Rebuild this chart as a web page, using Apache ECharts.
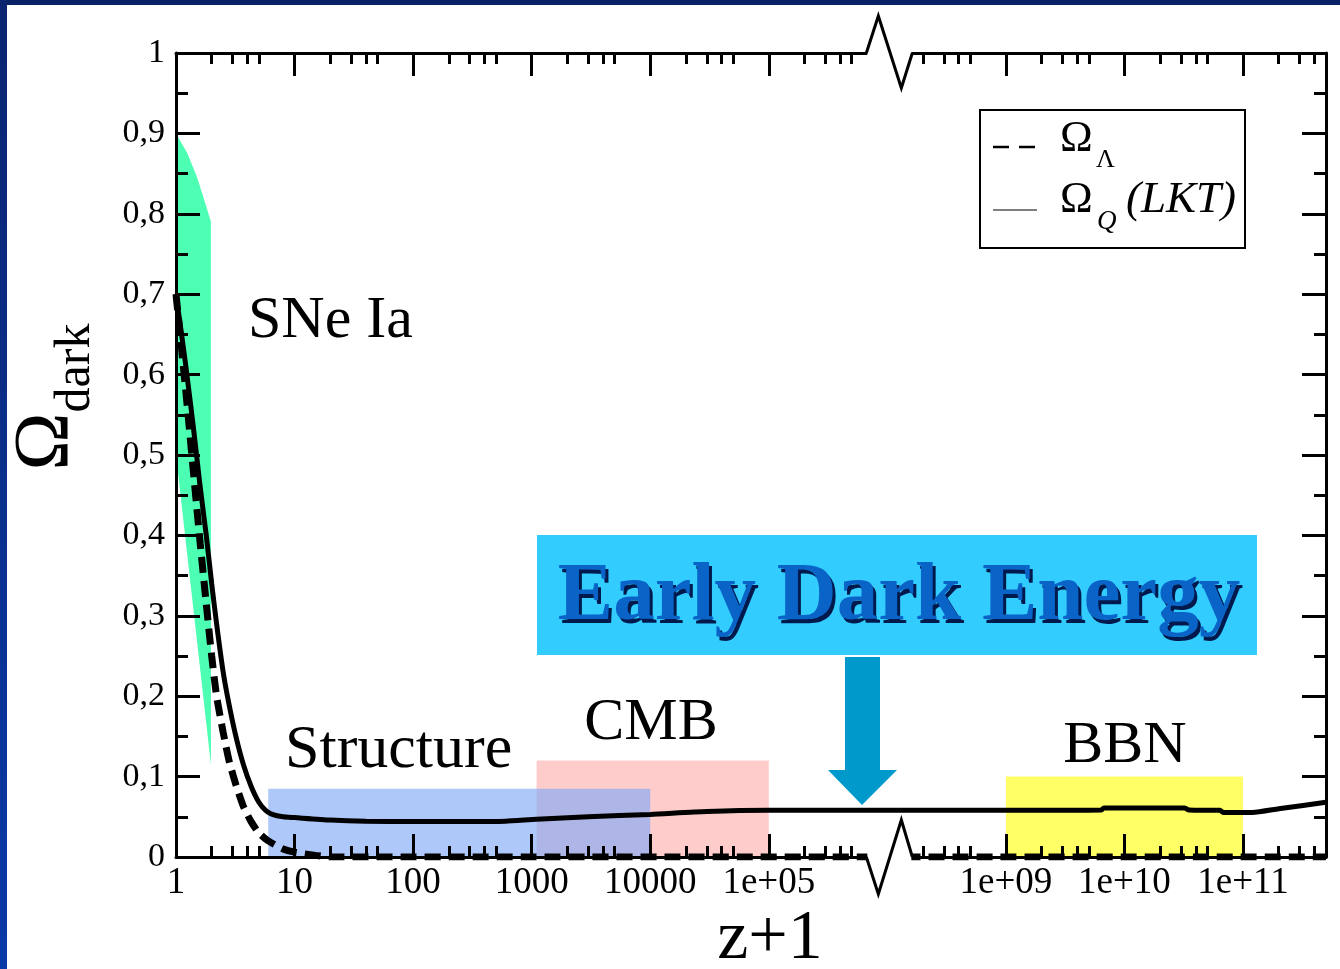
<!DOCTYPE html>
<html>
<head>
<meta charset="utf-8">
<title>Omega dark vs z+1</title>
<script src="https://cdn.jsdelivr.net/npm/echarts@6/dist/echarts.min.js"></script>
<style>
  html, body { margin: 0; padding: 0; background: #fff; }
  #main { width: 1340px; height: 969px; }
</style>
</head>
<body>
<div id="main"></div>
<script>
// z+1 values (log axis, break between 1e6 and 1e8) and Omega
var solidZ = [1, 1.2, 1.4, 1.6, 1.8, 2.0, 2.2, 2.5, 2.8, 3.2, 3.7, 4.3, 5.0, 5.7, 6.5, 8, 10, 20, 40, 100, 300, 600, 1100, 3000, 1e4, 3e4, 1e5, 1e6, 1e8, 1e9, 6.4e9, 6.7e9, 3.2e10, 3.5e10, 6.4e10, 6.8e10, 1.2e11, 2e11, 5e11];
var solidOmega = [0.70, 0.615, 0.535, 0.46, 0.40, 0.34, 0.29, 0.23, 0.19, 0.15, 0.115, 0.088, 0.068, 0.058, 0.053, 0.050, 0.049, 0.046, 0.0445, 0.044, 0.044, 0.0445, 0.047, 0.050, 0.053, 0.0565, 0.058, 0.058, 0.058, 0.058, 0.0585, 0.061, 0.061, 0.0585, 0.058, 0.0555, 0.0555, 0.060, 0.068];

var dashZ = [1, 1.2, 1.4, 1.6, 1.8, 2.0, 2.2, 2.5, 2.8, 3.2, 3.7, 4.3, 5.0, 6, 8, 10, 15, 20, 1e3, 1e6, 1e8, 5e11];
var dashOmega = [0.70, 0.585, 0.48, 0.39, 0.315, 0.25, 0.2, 0.155, 0.12, 0.09, 0.063, 0.044, 0.03, 0.02, 0.01, 0.006, 0.002, 0, 0, 0, 0, 0];

// SNe Ia region (polygon)
var sneZ = [1, 1.25, 1.5, 1.75, 1.97, 1.97, 1];
var sneOmega = [0.9, 0.875, 0.846, 0.815, 0.79, 0.115, 0.5];

// shaded bands: CMB first so Structure sits over it
var bandNames = ['CMB', 'Structure', 'BBN'];
var bandFrom = [1100, 6, 1e9];
var bandTo = [1e5, 1e4, 1e11];
var bandTop = [0.12, 0.085, 0.1];
var bandColors = ['#ffcccc', 'rgba(124,166,247,0.62)', '#ffff66'];

// tick labels
var tickDecades = [0, 1, 2, 3, 4, 5, 9, 10, 11];
var tickLabels = ['1', '10', '100', '1000', '10000', '1e+05', '1e+09', '1e+10', '1e+11'];
var minorDecades = [0, 1, 2, 3, 4, 5, 8, 9, 10, 11];
var minorSteps = [2, 3, 4, 5];
var yTickValues = [0, 0.1, 0.2, 0.3, 0.4, 0.5, 0.6, 0.7, 0.8, 0.9, 1];
var yTickLabels = ['0', '0,1', '0,2', '0,3', '0,4', '0,5', '0,6', '0,7', '0,8', '0,9', '1'];
var yMinorValues = [0.05, 0.15, 0.25, 0.35, 0.45, 0.55, 0.65, 0.75, 0.85, 0.95];

var FONT = 'Liberation Serif';
var X_MAX = 9.7;

// log10 -> axis units, 1e6..1e8 is cut out
function lgToAxis(lg) {
  if (lg <= 6) return lg;
  if (lg >= 8) return lg - 2;
  return 6;
}
function zToAxis(z) {
  return lgToAxis(Math.log10(z));
}

var tickPos = tickDecades.map(lgToAxis);
var minorPos = [];
minorDecades.forEach(function (d) {
  minorSteps.forEach(function (m) {
    var u = lgToAxis(d + Math.log10(m));
    if (u <= X_MAX + 1e-6) minorPos.push(u);
  });
});

var solidData = solidZ.map(function (z, i) { return [zToAxis(z), solidOmega[i]]; });
var dashData = dashZ.map(function (z, i) { return [zToAxis(z), dashOmega[i]]; });

var chart = echarts.init(document.getElementById('main'));

function xAxisBase(pos, major, showLabel) {
  return {
    type: 'value',
    position: pos,
    min: 0,
    max: X_MAX,
    z: 5,
    splitLine: { show: false },
    axisLine: { show: major, onZero: false, lineStyle: { color: '#000', width: 3 } },
    axisTick: {
      show: true,
      inside: true,
      length: major ? 23 : 11,
      customValues: major ? tickPos : minorPos,
      lineStyle: { color: '#000', width: 3 }
    },
    axisLabel: {
      show: showLabel,
      customValues: tickPos,
      margin: 8,
      color: '#000',
      fontFamily: FONT,
      fontSize: 37,
      formatter: function (v) {
        for (var i = 0; i < tickPos.length; i++) {
          if (Math.abs(tickPos[i] - v) < 1e-6) return tickLabels[i];
        }
        return '';
      }
    }
  };
}

// minorTick drew outside too, so minor ticks get their own axis
function yAxisBase(pos, major, showLabel) {
  return {
    type: 'value',
    position: pos,
    min: 0,
    max: 1,
    z: 5,
    splitLine: { show: false },
    axisLine: { show: major, onZero: false, lineStyle: { color: '#000', width: 3 } },
    axisTick: {
      show: true,
      inside: true,
      length: major ? 24 : 12,
      customValues: major ? yTickValues : yMinorValues,
      lineStyle: { color: '#000', width: 3 }
    },
    axisLabel: {
      show: showLabel,
      customValues: yTickValues,
      margin: 11,
      color: '#000',
      fontFamily: FONT,
      fontSize: 34,
      formatter: function (v) { return yTickLabels[Math.round(v * 10)]; }
    }
  };
}

var bandSeries = bandNames.map(function (name, i) {
  return {
    name: name,
    type: 'line',
    data: [],
    z: 1,
    markArea: {
      silent: true,
      itemStyle: { color: bandColors[i], opacity: 1 },
      data: [[
        { xAxis: zToAxis(bandFrom[i]), yAxis: 0 },
        { xAxis: zToAxis(bandTo[i]), yAxis: bandTop[i] }
      ]]
    }
  };
});

var option = {
  animation: false,
  backgroundColor: '#fff',
  grid: { left: 176, right: 14, top: 53, bottom: 112, containLabel: false },
  xAxis: [
    xAxisBase('bottom', true, true),
    xAxisBase('bottom', false, false),
    xAxisBase('top', true, false),
    xAxisBase('top', false, false)
  ],
  yAxis: [
    yAxisBase('left', true, true),
    yAxisBase('left', false, false),
    yAxisBase('right', true, false),
    yAxisBase('right', false, false)
  ],
  series: bandSeries.concat([
    {
      name: 'SNe Ia',
      type: 'custom',
      z: 1,
      silent: true,
      data: [0],
      renderItem: function (params, api) {
        var pts = sneZ.map(function (z, i) { return api.coord([zToAxis(z), sneOmega[i]]); });
        return { type: 'polygon', shape: { points: pts }, style: { fill: '#4dffb3' } };
      }
    },
    {
      name: 'Omega_Q (LKT)',
      type: 'line',
      data: solidData,
      z: 10,
      showSymbol: false,
      smooth: 0.2,
      lineStyle: { color: '#000', width: 5 }
    },
    {
      name: 'Omega_Lambda',
      type: 'line',
      data: dashData,
      z: 10,
      showSymbol: false,
      smooth: 0.2,
      lineStyle: { color: '#000', width: 7, type: [16, 8] }
    }
  ])
};

chart.setOption(option);

// break marks and annotations
var bx = chart.convertToPixel({ xAxisIndex: 0 }, 6);
var yTop = chart.convertToPixel({ yAxisIndex: 0 }, 1);
var yBot = chart.convertToPixel({ yAxisIndex: 0 }, 0);

function txt(x, y, text, size, opts) {
  opts = opts || {};
  return {
    type: 'text',
    x: x,
    y: y,
    z: 100,
    rotation: opts.rotation || 0,
    style: {
      text: text,
      fill: opts.fill || '#000',
      font: (opts.style || 'normal') + ' ' + (opts.weight || 'normal') + ' ' + size + 'px "' + FONT + '"',
      align: opts.align || 'left',
      verticalAlign: 'middle',
      rich: opts.rich
    }
  };
}

chart.setOption({
  graphic: [
    // frame of the slide
    { type: 'rect', z: 100, shape: { x: 0, y: 0, width: 1340, height: 5 }, style: { fill: '#0a2166' } },
    {
      type: 'rect', z: 100, shape: { x: 0, y: 0, width: 7, height: 969 },
      style: {
        fill: new echarts.graphic.LinearGradient(0, 0, 0, 1, [
          { offset: 0, color: '#0a2470' }, { offset: 1, color: '#0a3aa8' }
        ])
      }
    },
    // axis break
    { type: 'rect', z: 50, shape: { x: bx - 20, y: yTop - 4, width: 44, height: 8 }, style: { fill: '#fff' } },
    { type: 'rect', z: 50, shape: { x: bx - 20, y: yBot - 9, width: 44, height: 18 }, style: { fill: '#fff' } },
    {
      type: 'polyline', z: 51,
      shape: { points: [[bx - 21, yTop], [bx - 9, yTop - 37], [bx + 14, yTop + 35], [bx + 25, yTop]] },
      style: { stroke: '#000', lineWidth: 3, fill: null }
    },
    {
      type: 'polyline', z: 51,
      shape: { points: [[bx - 21, yBot], [bx - 9, yBot + 37], [bx + 14, yBot - 37], [bx + 25, yBot]] },
      style: { stroke: '#000', lineWidth: 3, fill: null }
    },
    // legend
    { type: 'rect', z: 60, shape: { x: 980, y: 110, width: 265, height: 138 }, style: { fill: '#fff', stroke: '#000', lineWidth: 2 } },
    { type: 'line', z: 61, shape: { x1: 993, y1: 147, x2: 1037, y2: 147 }, style: { stroke: '#000', lineWidth: 2.5, lineDash: [16, 10] } },
    { type: 'line', z: 61, shape: { x1: 993, y1: 210, x2: 1037, y2: 210 }, style: { stroke: '#000', lineWidth: 1.2 } },
    txt(1060, 139, 'Ω', 44),
    txt(1096, 160, 'Λ', 26),
    txt(1060, 200, 'Ω', 44),
    txt(1097, 222, 'Q', 27, { style: 'italic' }),
    txt(1126, 200, '(LKT)', 45, { style: 'italic' }),
    // region labels
    txt(248, 321, 'SNe Ia', 60),
    txt(285, 751, 'Structure', 62),
    txt(651, 723, 'CMB', 60, { align: 'center' }),
    txt(1125, 746, 'BBN', 60, { align: 'center' }),
    // early dark energy box + arrow
    { type: 'rect', z: 60, shape: { x: 537, y: 535, width: 720, height: 120 }, style: { fill: '#33ccff' } },
    txt(902, 602, 'Early Dark Energy', 83, { align: 'center', weight: 'bold', fill: '#001a4d' }),
    txt(899, 598, 'Early Dark Energy', 83, { align: 'center', weight: 'bold', fill: '#0a64c8' }),
    {
      type: 'polygon', z: 60,
      shape: { points: [[845, 657], [880, 657], [880, 770], [897, 770], [862, 805], [828, 770], [845, 770]] },
      style: { fill: '#0099cc' }
    },
    // axis titles
    txt(770, 940, 'z+1', 70, { align: 'center' }),
    txt(62, 397, '{o|Ω}{s|dark}', 78, {
      align: 'center',
      rotation: Math.PI / 2,
      rich: {
        o: { fontFamily: FONT, fontSize: 78, lineHeight: 78, padding: [0, 0, 15, 0], verticalAlign: 'bottom' },
        s: { fontFamily: FONT, fontSize: 50, lineHeight: 50, verticalAlign: 'bottom' }
      }
    })
  ]
});
</script>
</body>
</html>
